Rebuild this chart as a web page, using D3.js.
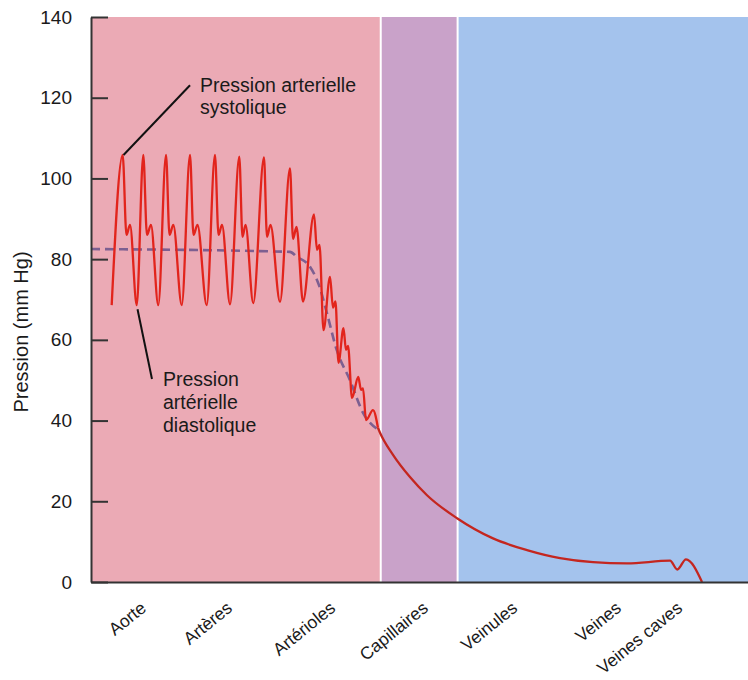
<!DOCTYPE html>
<html>
<head>
    <meta charset="utf-8">
    <title>Pression sanguine</title>
    <script src="https://d3js.org/d3.v7.min.js"></script>
    <style>
        body {
            margin: 0;
            background-color: white;
            font-family: "Liberation Sans", Arial, Helvetica, sans-serif;
        }
        .axis path, .axis line {
            stroke: #333;
            stroke-width: 2px;
        }
        .axis text {
            fill: #1a1a1a;
        }
        .note {
            fill: #1a1a1a;
            font-size: 19.5px;
        }
    </style>
</head>
<body>
    <div id="chart"></div>
    <script>
        // Categories along the vessel path (x in arbitrary path units 0-100)
        const categories = ["Aorte", "Artères", "Artérioles", "Capillaires", "Veinules", "Veines", "Veines caves"];
        const categoryPos = [8.5, 21.6, 37.3, 51.4, 65.0, 80.8, 90.1];
        const yTicks = [0, 20, 40, 60, 80, 100, 120, 140];

        // zone limits : artériel | capillaires | veineux
        const zoneBounds = [0, 44.1, 55.8, 100];

        // arterial pulse (x, mm Hg)
        const pulse = [
            [3.15, 68.6],
            [4.82, 105.8], [5.40, 86], [5.94, 88.5], [6.96, 68.6],
            [7.96, 105.8], [8.52, 86], [9.13, 88.5], [10.24, 68.6],
            [11.42, 105.8], [11.95, 86], [12.53, 88.5], [13.81, 68.6],
            [15.07, 105.8], [15.60, 86], [16.21, 88.5], [17.61, 68.6],
            [18.87, 105.8], [19.41, 86], [19.94, 88.5], [21.16, 68.8],
            [22.57, 105.4], [23.06, 85.5], [23.52, 88.5], [24.70, 69.1],
            [26.33, 105.2], [26.79, 85.5], [27.32, 88.5], [28.77, 69.4],
            [30.29, 102.5], [30.75, 85], [31.28, 88], [32.27, 69.5],
            [33.94, 91.1], [34.40, 82.3], [34.78, 83.5], [35.39, 62.4],
            [36.38, 75.6], [36.83, 68], [37.21, 69.5], [37.67, 54.3],
            [38.43, 62.9], [38.81, 57.5], [39.12, 58.5], [39.73, 45.6],
            [40.68, 50.8], [41.10, 47.6], [41.40, 48], [41.86, 40.1],
            [42.92, 42.6], [43.68, 38.2]
        ];

        // capillaries and venous return
        const venous = [
            [43.68, 38.2], [43.99, 37], [45.97, 31.5], [48.55, 26], [51.14, 21.5],
            [55.71, 15.8], [61.19, 10.8], [66.36, 7.9], [71.39, 5.9], [76.41, 4.9],
            [81.58, 4.6], [88.13, 5.3], [89.24, 3.1], [90.56, 5.6], [93.0, 0]
        ];

        // mean arterial pressure (dashed)
        const meanPressure = [
            [0, 82.5], [30.29, 81.8], [31.31, 80.6], [33.33, 78.1], [34.86, 72.8],
            [35.88, 66.8], [37.40, 57.5], [39.42, 50.0], [41.45, 41.8], [43.73, 37.7]
        ];

        const zoneColors = ["#ebaab5", "#c9a2c9", "#a4c3ed"];

        const width = 748, height = 680;
        const x = d3.scaleLinear().domain([0, 100]).range([91, 748]);
        const y = d3.scaleLinear().domain([0, 140]).range([582, 17]);

        const svg = d3.select("#chart")
            .append("svg")
            .attr("width", width)
            .attr("height", height);

        // background zones
        svg.append("g")
            .selectAll("rect")
            .data(zoneColors)
            .enter()
            .append("rect")
            .attr("x", (d, i) => x(zoneBounds[i]))
            .attr("y", y(140))
            .attr("width", (d, i) => x(zoneBounds[i + 1]) - x(zoneBounds[i]))
            .attr("height", y(0) - y(140))
            .attr("fill", d => d);

        // white separators
        svg.append("g")
            .selectAll("line")
            .data(zoneBounds.slice(1, 3))
            .enter()
            .append("line")
            .attr("x1", d => x(d)).attr("x2", d => x(d))
            .attr("y1", y(140)).attr("y2", y(0))
            .attr("stroke", "white")
            .attr("stroke-width", 2);

        const line = d3.line()
            .x(d => x(d[0]))
            .y(d => y(d[1]))
            .curve(d3.curveMonotoneX);

        svg.append("path")
            .datum(meanPressure)
            .attr("d", line)
            .attr("fill", "none")
            .attr("stroke", "#7d5f91")
            .attr("stroke-width", 2.6)
            .attr("stroke-dasharray", "9,5");

        svg.append("path")
            .datum(pulse)
            .attr("d", line)
            .attr("fill", "none")
            .attr("stroke", "#e2241c")
            .attr("stroke-width", 2.3)
            .attr("stroke-linejoin", "round");

        svg.append("path")
            .datum(venous)
            .attr("d", line)
            .attr("fill", "none")
            .attr("stroke", "#c4261f")
            .attr("stroke-width", 2.3);

        // axes
        svg.append("g")
            .attr("class", "axis")
            .attr("transform", `translate(${x(0)},0)`)
            .call(d3.axisLeft(y).tickValues(yTicks).tickSizeInner(-17).tickSizeOuter(0).tickPadding(19))
            .selectAll("text")
            .style("font-size", "19px");

        const xAxis = svg.append("g")
            .attr("class", "axis")
            .attr("transform", `translate(0,${y(0)})`)
            .call(d3.axisBottom(x).tickValues(categoryPos)
                .tickFormat((d, i) => categories[i]).tickSize(0).tickSizeOuter(0));
        xAxis.selectAll("text")
            .style("font-size", "17.5px")
            .attr("text-anchor", "end")
            .attr("x", 0).attr("y", 0).attr("dy", 0)
            .attr("transform", "translate(0,28) rotate(-39)");

        svg.append("text")
            .attr("transform", "translate(28,332) rotate(-90)")
            .attr("text-anchor", "middle")
            .style("font-size", "20px")
            .style("fill", "#1a1a1a")
            .text("Pression (mm Hg)");

        // annotations
        svg.append("line")
            .attr("x1", x(4.95)).attr("y1", y(105.8))
            .attr("x2", x(15.07)).attr("y2", y(123.1))
            .attr("stroke", "#111").attr("stroke-width", 2);
        svg.append("text").attr("class", "note")
            .attr("x", x(16.59)).attr("y", y(121.4))
            .selectAll("tspan")
            .data(["Pression arterielle", "systolique"])
            .enter().append("tspan")
            .attr("x", x(16.59))
            .attr("dy", (d, i) => i ? 22.3 : 0)
            .text(d => d);

        svg.append("line")
            .attr("x1", x(7.08)).attr("y1", y(67.6))
            .attr("x2", x(9.28)).attr("y2", y(50.3))
            .attr("stroke", "#111").attr("stroke-width", 2);
        svg.append("text").attr("class", "note")
            .attr("x", x(10.96)).attr("y", y(48.5))
            .selectAll("tspan")
            .data(["Pression", "artérielle", "diastolique"])
            .enter().append("tspan")
            .attr("x", x(10.96))
            .attr("dy", (d, i) => i ? 23 : 0)
            .text(d => d);
    </script>
</body>
</html>
